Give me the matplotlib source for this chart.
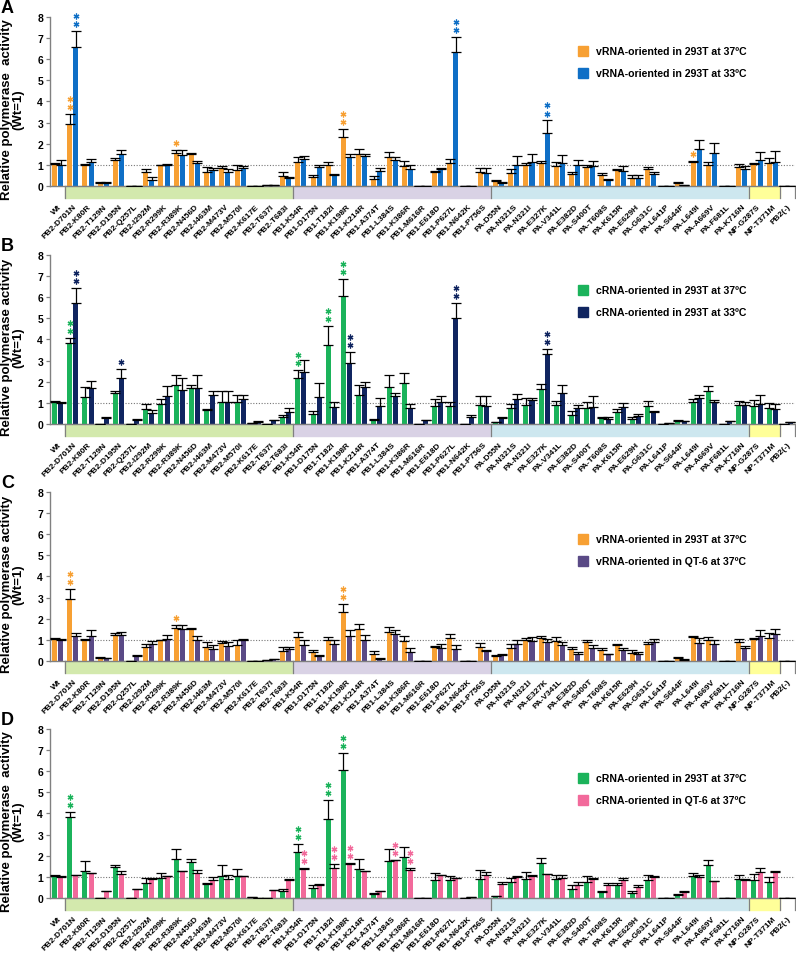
import matplotlib
matplotlib.use('Agg')
import matplotlib.pyplot as plt
import numpy as np
from matplotlib.patches import Rectangle

plt.rcParams['font.family'] = ['Liberation Sans', 'DejaVu Sans']
plt.rcParams['font.weight'] = 'bold'

cats = ['Wt', 'PB2-D701N', 'PB2-K80R', 'PB2-T129N', 'PB2-D195N', 'PB2-Q257L', 'PB2-I292M',
        'PB2-R299K', 'PB2-R389K', 'PB2-N456D', 'PB2-I463M', 'PB2-M473V', 'PB2-M570I',
        'PB2-K617E', 'PB2-T637I', 'PB2-T683I', 'PB1-K54R', 'PB1-D175N', 'PB1-T182I',
        'PB1-K198R', 'PB1-K214R', 'PB1-A374T', 'PB1-L384S', 'PB1-K386R', 'PB1-M616R',
        'PB1-E618D', 'PB1-P627L', 'PB1-N642K', 'PB1-P756S', 'PA-D55N', 'PA-N321S',
        'PA-N321I', 'PA-E327K', 'PA-V341L', 'PA-E382D', 'PA-S400T', 'PA-T608S', 'PA-K615R',
        'PA-E629H', 'PA-G631C', 'PA-L641P', 'PA-S644F', 'PA-L649I', 'PA-A669V', 'PA-F681L',
        'PA-K716N', 'NP-G287S', 'NP-T371M', 'PB2(-)']

# vRNA-oriented, 293T, 37C
v293_37 = [1.03, 2.92, 0.98, 0.15, 1.23, 0.02, 0.66, 0.98, 1.54, 1.53, 0.67, 0.87, 0.74,
           0.01, 0.05, 0.49, 1.13, 0.43, 0.99, 2.33, 1.53, 0.32, 1.37, 0.95, 0.0, 0.65,
           1.07, 0.02, 0.65, 0.24, 0.60, 0.99, 1.07, 0.93, 0.59, 0.90, 0.50, 0.76, 0.38,
           0.80, 0.0, 0.16, 1.15, 1.01, 0.0, 0.90, 1.03, 1.10, 0.0]
v293_37_err = [0.05, 0.48, 0.05, 0.03, 0.09, 0.0, 0.15, 0.03, 0.18, 0.04, 0.22, 0.08, 0.23,
               0.0, 0.02, 0.15, 0.26, 0.08, 0.16, 0.35, 0.22, 0.13, 0.24, 0.23, 0.0, 0.08,
               0.22, 0.0, 0.22, 0.03, 0.19, 0.11, 0.10, 0.22, 0.07, 0.09, 0.10, 0.03, 0.13,
               0.10, 0.0, 0.03, 0.04, 0.14, 0.0, 0.16, 0.06, 0.24, 0.0]
# vRNA-oriented, 293T, 33C
v293_33 = [1.0, 6.59, 1.15, 0.15, 1.52, 0.02, 0.30, 0.98, 1.45, 1.10, 0.78, 0.68, 0.83,
           0.02, 0.03, 0.38, 1.30, 0.92, 0.52, 1.38, 1.40, 0.72, 1.25, 0.82, 0.0, 0.82,
           6.34, 0.02, 0.63, 0.16, 1.0, 1.15, 2.52, 1.07, 1.0, 0.95, 0.28, 0.71, 0.39,
           0.55, 0.0, 0.05, 1.73, 1.58, 0.0, 0.82, 1.21, 1.15, 0.0]
v293_33_err = [0.22, 0.74, 0.15, 0.02, 0.18, 0.0, 0.12, 0.05, 0.25, 0.08, 0.07, 0.12, 0.12,
               0.0, 0.0, 0.05, 0.10, 0.05, 0.03, 0.12, 0.12, 0.13, 0.13, 0.18, 0.0, 0.05,
               0.71, 0.0, 0.24, 0.03, 0.42, 0.35, 0.58, 0.40, 0.21, 0.23, 0.07, 0.24, 0.13,
               0.11, 0.0, 0.01, 0.45, 0.47, 0.0, 0.13, 0.39, 0.50, 0.0]
# cRNA-oriented, 293T, 37C
c293_37 = [1.03, 3.82, 1.26, 0.02, 1.45, 0.02, 0.71, 0.95, 1.86, 1.70, 0.66, 1.06, 1.03,
           0.03, 0.02, 0.34, 2.18, 0.47, 3.74, 6.07, 1.39, 0.19, 1.73, 1.92, 0.0, 0.87,
           0.85, 0.02, 0.90, 0.08, 0.76, 0.89, 1.66, 0.89, 0.43, 0.75, 0.29, 0.59, 0.24,
           0.87, 0.02, 0.16, 1.05, 1.56, 0.02, 0.90, 0.85, 0.76, 0.0]
c293_37_err = [0.04, 0.23, 0.47, 0.0, 0.13, 0.0, 0.22, 0.25, 0.47, 0.16, 0.05, 0.49, 0.36,
               0.0, 0.0, 0.08, 0.37, 0.15, 0.91, 0.78, 0.46, 0.05, 0.60, 0.50, 0.0, 0.32,
               0.20, 0.0, 0.43, 0.01, 0.19, 0.35, 0.21, 0.20, 0.20, 0.30, 0.03, 0.10, 0.10,
               0.20, 0.0, 0.02, 0.12, 0.22, 0.0, 0.20, 0.27, 0.24, 0.0]
# cRNA-oriented, 293T, 33C
c293_33 = [1.0, 5.73, 1.70, 0.28, 2.18, 0.20, 0.50, 1.31, 1.61, 1.69, 1.37, 1.06, 1.18,
           0.10, 0.17, 0.55, 2.44, 1.29, 0.82, 2.87, 1.73, 0.87, 1.31, 0.76, 0.17, 1.03,
           5.02, 0.32, 0.87, 0.28, 1.18, 1.15, 3.33, 1.47, 0.76, 0.80, 0.25, 0.79, 0.36,
           0.55, 0.05, 0.13, 1.23, 1.03, 0.16, 0.91, 0.95, 0.71, 0.08]
c293_33_err = [0.06, 0.69, 0.35, 0.04, 0.42, 0.04, 0.16, 0.50, 0.55, 0.64, 0.18, 0.49, 0.21,
               0.02, 0.03, 0.21, 0.59, 0.63, 0.21, 0.52, 0.27, 0.34, 0.14, 0.19, 0.03, 0.31,
               0.71, 0.12, 0.47, 0.04, 0.24, 0.08, 0.22, 0.36, 0.12, 0.54, 0.08, 0.20, 0.11,
               0.05, 0.0, 0.0, 0.13, 0.09, 0.0, 0.13, 0.44, 0.25, 0.0]
# vRNA-oriented, QT-6, 37C
vqt_37 = [1.0, 1.18, 1.20, 0.12, 1.22, 0.24, 0.79, 1.02, 1.50, 0.98, 0.58, 0.71, 0.98,
          0.0, 0.08, 0.55, 0.76, 0.24, 0.82, 1.18, 1.0, 0.11, 1.26, 0.44, 0.0, 0.60,
          0.55, 0.01, 0.46, 0.27, 0.79, 0.95, 0.90, 0.74, 0.35, 0.63, 0.32, 0.52, 0.35,
          0.90, 0.0, 0.05, 0.87, 0.79, 0.0, 0.63, 1.18, 1.26, 0.0]
vqt_37_err = [0.05, 0.16, 0.27, 0.03, 0.15, 0.04, 0.16, 0.21, 0.19, 0.20, 0.16, 0.19, 0.05,
              0.0, 0.02, 0.13, 0.23, 0.03, 0.17, 0.29, 0.23, 0.05, 0.19, 0.16, 0.0, 0.19,
              0.21, 0.0, 0.04, 0.05, 0.20, 0.20, 0.16, 0.16, 0.08, 0.13, 0.03, 0.11, 0.08,
              0.12, 0.0, 0.03, 0.23, 0.19, 0.0, 0.08, 0.29, 0.27, 0.0]
# cRNA-oriented, QT-6, 37C
cqt_37 = [1.0, 1.07, 1.18, 0.33, 1.12, 0.41, 0.91, 1.04, 1.27, 1.20, 0.87, 0.91, 1.02,
          0.0, 0.36, 0.83, 1.39, 0.60, 1.42, 1.62, 1.26, 0.31, 1.78, 1.33, 0.0, 1.09,
          0.93, 0.04, 1.09, 0.66, 0.98, 1.06, 1.14, 0.95, 0.63, 0.90, 0.63, 0.85, 0.54,
          1.01, 0.0, 0.30, 0.98, 0.79, 0.0, 0.87, 1.21, 1.25, 0.0]
cqt_37_err = [0.05, 0.03, 0.02, 0.02, 0.15, 0.03, 0.02, 0.02, 0.02, 0.13, 0.12, 0.16, 0.01,
              0.0, 0.02, 0.08, 0.02, 0.08, 0.17, 0.02, 0.02, 0.04, 0.02, 0.09, 0.0, 0.01,
              0.01, 0.0, 0.16, 0.11, 0.04, 0.01, 0.01, 0.14, 0.11, 0.05, 0.08, 0.10, 0.08,
              0.01, 0.0, 0.05, 0.11, 0.03, 0.0, 0.01, 0.19, 0.01, 0.0]

# significance stars: index -> number of stars
stars_v293_37_A = {1: 2, 8: 1, 19: 2, 42: 1}
stars_v293_33 = {1: 2, 26: 2, 32: 2}
stars_c293_37 = {1: 2, 16: 2, 18: 2, 19: 2}
stars_c293_33 = {1: 2, 4: 1, 19: 2, 26: 2, 32: 2}
stars_v293_37_C = {1: 2, 8: 1, 19: 2}
stars_cqt_37 = {16: 2, 18: 2, 19: 2, 22: 2, 23: 2}

# gene bands under the axis
band_names = ['PB2', 'PB1', 'PA', 'NP']
band_start = [0.5, 15.5, 28.5, 45.5]
band_end = [15.5, 28.5, 45.5, 47.5]
band_colors = ['#d3e9ad', '#d9d2e5', '#cde7ef', '#ffff99']

orange = '#f7a033'
blue = '#0f6fc6'
green = '#1bb35b'
navy = '#102560'
purple = '#5a4a86'
pink = '#f26a9b'

fig = plt.figure(figsize=(7.96, 9.54), dpi=100)
x = np.arange(len(cats))
w = 0.33
off = 0.2


def panel(bottom, letter, s1, e1, st1, c1, l1, s2, e2, st2, c2, l2, leg_y, ylab):
    ax = fig.add_axes([0.0628, bottom, 0.936, 0.1772])
    for xs, vals, errs, st, col in [(x - off, s1, e1, st1, c1), (x + off, s2, e2, st2, c2)]:
        vals = np.array(vals)
        errs = np.array(errs)
        ax.bar(xs, vals, w, color=col, zorder=2)
        ax.errorbar(xs, vals, yerr=[np.zeros_like(errs), errs], fmt='none', ecolor='black',
                    elinewidth=0.9, capsize=3.5, capthick=0.9, zorder=3)
        for i, n in st.items():
            top = vals[i] + errs[i]
            ys = [top + 0.33 + 0.38 * k for k in range(n)]
            ax.plot([xs[i]] * n, ys, ls='', marker=(6, 2, 0), ms=4.2, mew=0.9, color=col,
                    clip_on=False, zorder=4)
    ax.axhline(1, color='#777777', ls=(0, (1, 1.5)), lw=0.8, zorder=1)
    ax.set_xlim(-0.5, len(cats) - 0.5)
    ax.set_ylim(0, 8)
    ax.set_yticks(range(9))
    ax.tick_params(axis='y', labelsize=7.5, length=3, color='#808080', width=0.9, pad=2)
    ax.set_xticks(x)
    ax.set_xticklabels(cats, rotation=45, ha='right', va='top', rotation_mode='anchor',
                       fontsize=6)
    ax.tick_params(axis='x', length=0, pad=12)
    for sp in ['top', 'right']:
        ax.spines[sp].set_visible(False)
    for sp in ['left', 'bottom']:
        ax.spines[sp].set_color('#808080')
        ax.spines[sp].set_linewidth(1.0)
    tr = ax.get_xaxis_transform()
    for b0, b1, bc in zip(band_start, band_end, band_colors):
        ax.add_patch(Rectangle((b0, -0.071), b1 - b0, 0.071, transform=tr, color=bc,
                               clip_on=False, zorder=0))
    for b in band_start + [band_end[-1], len(cats) - 0.5]:
        ax.plot([b, b], [0, -0.071], transform=tr, color='#808080', lw=0.9, clip_on=False)
    ax.set_ylabel(ylab, fontsize=9.5, fontweight='bold', linespacing=1.0)
    ax.yaxis.set_label_coords(-0.034, 0.46)
    ax.text(-0.057, 1.053, letter, transform=ax.transAxes, fontsize=13, fontweight='bold',
            ha='center', va='center')
    for k, (lab, col) in enumerate([(l1, c1), (l2, c2)]):
        yy = leg_y - 0.13 * k
        ax.plot([0.715], [yy], marker='s', ms=7.5, ls='', color=col, transform=ax.transAxes,
                clip_on=False)
        ax.text(0.733, yy, lab, transform=ax.transAxes, fontsize=7.6, fontweight='bold',
                va='center', ha='left')
    return ax


lab2 = 'Relative polymerase  activity\n(Wt=1)'
lab1 = 'Relative polymerase activity\n(Wt=1)'

panel(0.8040, 'A', v293_37, v293_37_err, stars_v293_37_A, orange, 'vRNA-oriented in 293T at 37ºC',
      v293_33, v293_33_err, stars_v293_33, blue, 'vRNA-oriented in 293T at 33ºC', 0.80, lab2)
panel(0.5545, 'B', c293_37, c293_37_err, stars_c293_37, green, 'cRNA-oriented in 293T at 37ºC',
      c293_33, c293_33_err, stars_c293_33, navy, 'cRNA-oriented in 293T at 33ºC', 0.79, lab1)
panel(0.3061, 'C', v293_37, v293_37_err, stars_v293_37_C, orange, 'vRNA-oriented in 293T at 37ºC',
      vqt_37, vqt_37_err, {}, purple, 'vRNA-oriented in QT-6 at 37ºC', 0.72, lab1)
panel(0.0577, 'D', c293_37, c293_37_err, stars_c293_37, green, 'cRNA-oriented in 293T at 37ºC',
      cqt_37, cqt_37_err, stars_cqt_37, pink, 'cRNA-oriented in QT-6 at 37ºC', 0.71, lab2)

fig.savefig('out.png', dpi=100)
